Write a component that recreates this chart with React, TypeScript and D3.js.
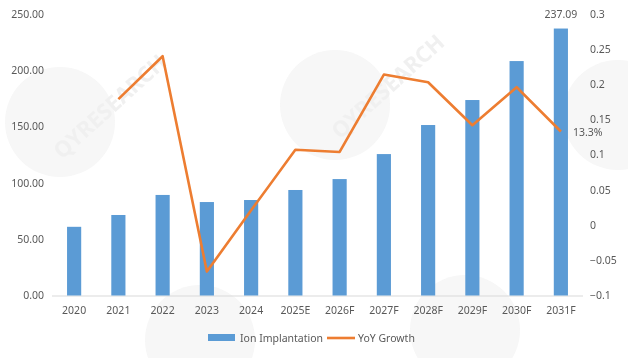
import React from "react";
import * as d3 from "d3";

const categories = ["2020","2021","2022","2023","2024","2025E","2026F","2027F","2028F","2029F","2030F","2031F"];
const ionImplantation = [61.0, 71.5, 89.3, 83.0, 84.8, 93.7, 103.4, 125.6, 151.4, 173.6, 208.2, 237.09];
const yoyGrowth = [null, 0.179, 0.240, -0.066, 0.021, 0.107, 0.104, 0.214, 0.203, 0.142, 0.196, 0.133];
const leftTicks = [0, 50, 100, 150, 200, 250];
const rightTicks = [-0.1, -0.05, 0, 0.05, 0.1, 0.15, 0.2, 0.25, 0.3];
const watermarkText = "QYRESEARCH";

const W = 628, H = 358;
const plotLeft = 52, plotRight = 583, plotTop = 14, plotBottom = 295.5;
const FONT = "'Noto Sans', 'DejaVu Sans', sans-serif";
const TXT = "#595959";

const watermarks = [
  { cx: 60, cy: 122, tx: 62, ty: 160, text: true },
  { cx: 335, cy: 105, tx: 340, ty: 140, text: true },
  { cx: 618, cy: 115, tx: 0, ty: 0, text: false },
  { cx: 200, cy: 340, tx: 0, ty: 0, text: false },
  { cx: 465, cy: 330, tx: 0, ty: 0, text: false },
];

export default function App() {
  const x = d3.scaleBand<string>().domain(categories).range([plotLeft, plotRight]).paddingInner(0.68).paddingOuter(0.34);
  const yL = d3.scaleLinear().domain([0, 250]).range([plotBottom, plotTop]);
  const yR = d3.scaleLinear().domain([-0.1, 0.3]).range([plotBottom, plotTop]);
  const band = d3.scaleBand<string>().domain(categories).range([plotLeft, plotRight]);
  const cx = (c: string) => (band(c) as number) + band.bandwidth() / 2;

  const linePts = categories.map((c, i) => ({ c, v: yoyGrowth[i] })).filter(d => d.v !== null) as { c: string; v: number }[];
  const line = d3.line<{ c: string; v: number }>().x(d => cx(d.c)).y(d => yR(d.v));
  const bw = x.bandwidth();
  const last = categories.length - 1;

  return (
    <svg width={W} height={H} style={{ position: "absolute", left: 0, top: 0, background: "#fff" }}>
      <g opacity={0.55}>
        {watermarks.map((w, i) => (
          <g key={i}>
            <circle cx={w.cx} cy={w.cy} r={55} fill="#f0f0f0" />
            {w.text && (
              <text x={w.tx} y={w.ty} transform={`rotate(-42 ${w.tx} ${w.ty})`} fontFamily={FONT} fontWeight="bold" fontSize={22} fill="#e4e4e4">{watermarkText}</text>
            )}
          </g>
        ))}
      </g>
      <line x1={plotLeft} x2={plotRight} y1={plotBottom + 0.5} y2={plotBottom + 0.5} stroke="#d9d9d9" strokeWidth={1} />
      {categories.map((c, i) => (
        <rect key={c} x={cx(c) - bw / 2} y={yL(ionImplantation[i])} width={bw} height={plotBottom - yL(ionImplantation[i])} fill="#5B9BD5" />
      ))}
      <path d={line(linePts) || ""} fill="none" stroke="#ED7D31" strokeWidth={2.6} strokeLinejoin="round" />
      {leftTicks.map(t => (
        <text key={t} x={44} y={yL(t)} dy="0.35em" textAnchor="end" fontFamily={FONT} fontSize={10.5} fill={TXT}>{t.toFixed(2)}</text>
      ))}
      {rightTicks.map(t => (
        <text key={t} x={590} y={yR(t)} dy="0.35em" textAnchor="start" fontFamily={FONT} fontSize={10.5} fill={TXT}>{d3.format("")(+t.toFixed(2))}</text>
      ))}
      {categories.map(c => (
        <text key={c} x={cx(c)} y={310} dy="0.35em" textAnchor="middle" fontFamily={FONT} fontSize={10.5} fill={TXT}>{c}</text>
      ))}
      <text x={cx(categories[last])} y={14} dy="0.35em" textAnchor="middle" fontFamily={FONT} fontSize={10.5} fill={TXT}>{ionImplantation[last].toFixed(2)}</text>
      <text x={cx(categories[last]) + 12} y={132} dy="0.35em" textAnchor="start" fontFamily={FONT} fontSize={10.5} fill={TXT}>{(yoyGrowth[last] as number * 100).toFixed(1)}%</text>
      <rect x={208} y={334} width={27} height={7} fill="#5B9BD5" />
      <text x={240} y={338} dy="0.35em" fontFamily={FONT} fontSize={10.5} fill={TXT}>Ion Implantation</text>
      <line x1={327} x2={355} y1={338} y2={338} stroke="#ED7D31" strokeWidth={2.6} />
      <text x={358} y={338} dy="0.35em" fontFamily={FONT} fontSize={10.5} fill={TXT}>YoY Growth</text>
    </svg>
  );
}
